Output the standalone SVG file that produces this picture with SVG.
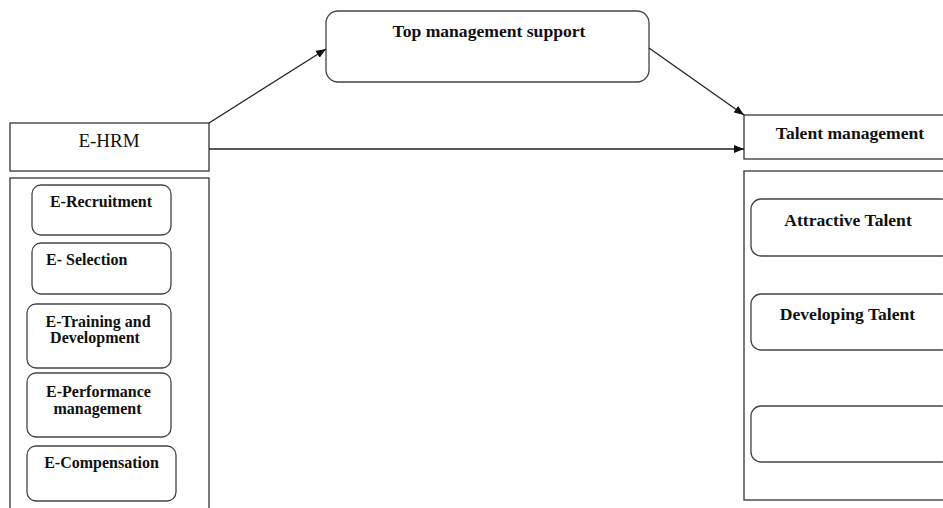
<svg xmlns="http://www.w3.org/2000/svg" width="943" height="508" viewBox="0 0 943 508">
<style>
.box{fill:#fff;stroke:#333;stroke-width:1.3}
.rbox{fill:#fff;stroke:#444;stroke-width:1.3}
.t{font-family:"Liberation Serif",serif;font-weight:bold;font-size:16px;fill:#111}
.tr{font-family:"Liberation Serif",serif;font-size:19px;fill:#111}
.big{font-family:"Liberation Serif",serif;font-weight:bold;font-size:17.6px;fill:#111}
.c{stroke:#222;stroke-width:1.3;fill:none}
</style>
<defs>
<marker id="ah" viewBox="0 0 10 8" refX="10" refY="4" markerWidth="10" markerHeight="8" markerUnits="userSpaceOnUse" orient="auto">
<path d="M0,0 L10,4 L0,8 Z" fill="#111"/>
</marker>
</defs>
<rect width="943" height="508" fill="#fff"/>
<g id="top-management-support">
<rect class="rbox" x="326" y="11" width="323" height="71" rx="12"/>
<text class="big" x="489" y="37" text-anchor="middle">Top management support</text>
</g>
<g id="e-hrm">
<rect class="box" x="10" y="123" width="199" height="48"/>
<text class="tr" x="109" y="147" text-anchor="middle">E-HRM</text>
</g>
<g id="e-hrm-container">
<rect class="box" x="10" y="178" width="199" height="340"/>
</g>
<g id="e-recruitment">
<rect class="rbox" x="32" y="185" width="139" height="50" rx="9"/>
<text class="t" x="101" y="207" text-anchor="middle">E-Recruitment</text>
</g>
<g id="e-selection">
<rect class="rbox" x="32" y="243" width="139" height="51" rx="9"/>
<text class="t" x="46" y="265">E- Selection</text>
</g>
<g id="e-training">
<rect class="rbox" x="27" y="304" width="144" height="64" rx="9"/>
<text class="t" x="98" y="327" text-anchor="middle">E-Training and</text>
<text class="t" x="95" y="343" text-anchor="middle">Development</text>
</g>
<g id="e-performance">
<rect class="rbox" x="27" y="373" width="144" height="64" rx="9"/>
<text class="t" x="98.5" y="397" text-anchor="middle">E-Performance</text>
<text class="t" x="97.5" y="414" text-anchor="middle">management</text>
</g>
<g id="e-compensation">
<rect class="rbox" x="27" y="446" width="149" height="55" rx="9"/>
<text class="t" x="101.5" y="468" text-anchor="middle">E-Compensation</text>
</g>
<g id="talent-management">
<rect class="box" x="744" y="115" width="210" height="44"/>
<text class="big" x="850" y="139" text-anchor="middle">Talent management</text>
</g>
<g id="talent-container">
<rect class="box" x="744" y="171" width="210" height="329"/>
</g>
<g id="attractive-talent">
<rect class="rbox" x="751" y="199" width="200" height="57" rx="10"/>
<text class="big" x="848" y="226" text-anchor="middle">Attractive Talent</text>
</g>
<g id="developing-talent">
<rect class="rbox" x="751" y="294" width="200" height="56" rx="10"/>
<text class="big" x="847.5" y="320" text-anchor="middle">Developing Talent</text>
</g>
<g id="empty-box">
<rect class="rbox" x="751" y="406" width="200" height="56" rx="10"/>
</g>
<g id="connectors">
<line class="c" x1="209" y1="123" x2="326" y2="49" marker-end="url(#ah)"/>
<line class="c" x1="649" y1="48" x2="744" y2="115" marker-end="url(#ah)"/>
<line class="c" x1="209" y1="149" x2="744" y2="149" marker-end="url(#ah)"/>
</g>
</svg>
